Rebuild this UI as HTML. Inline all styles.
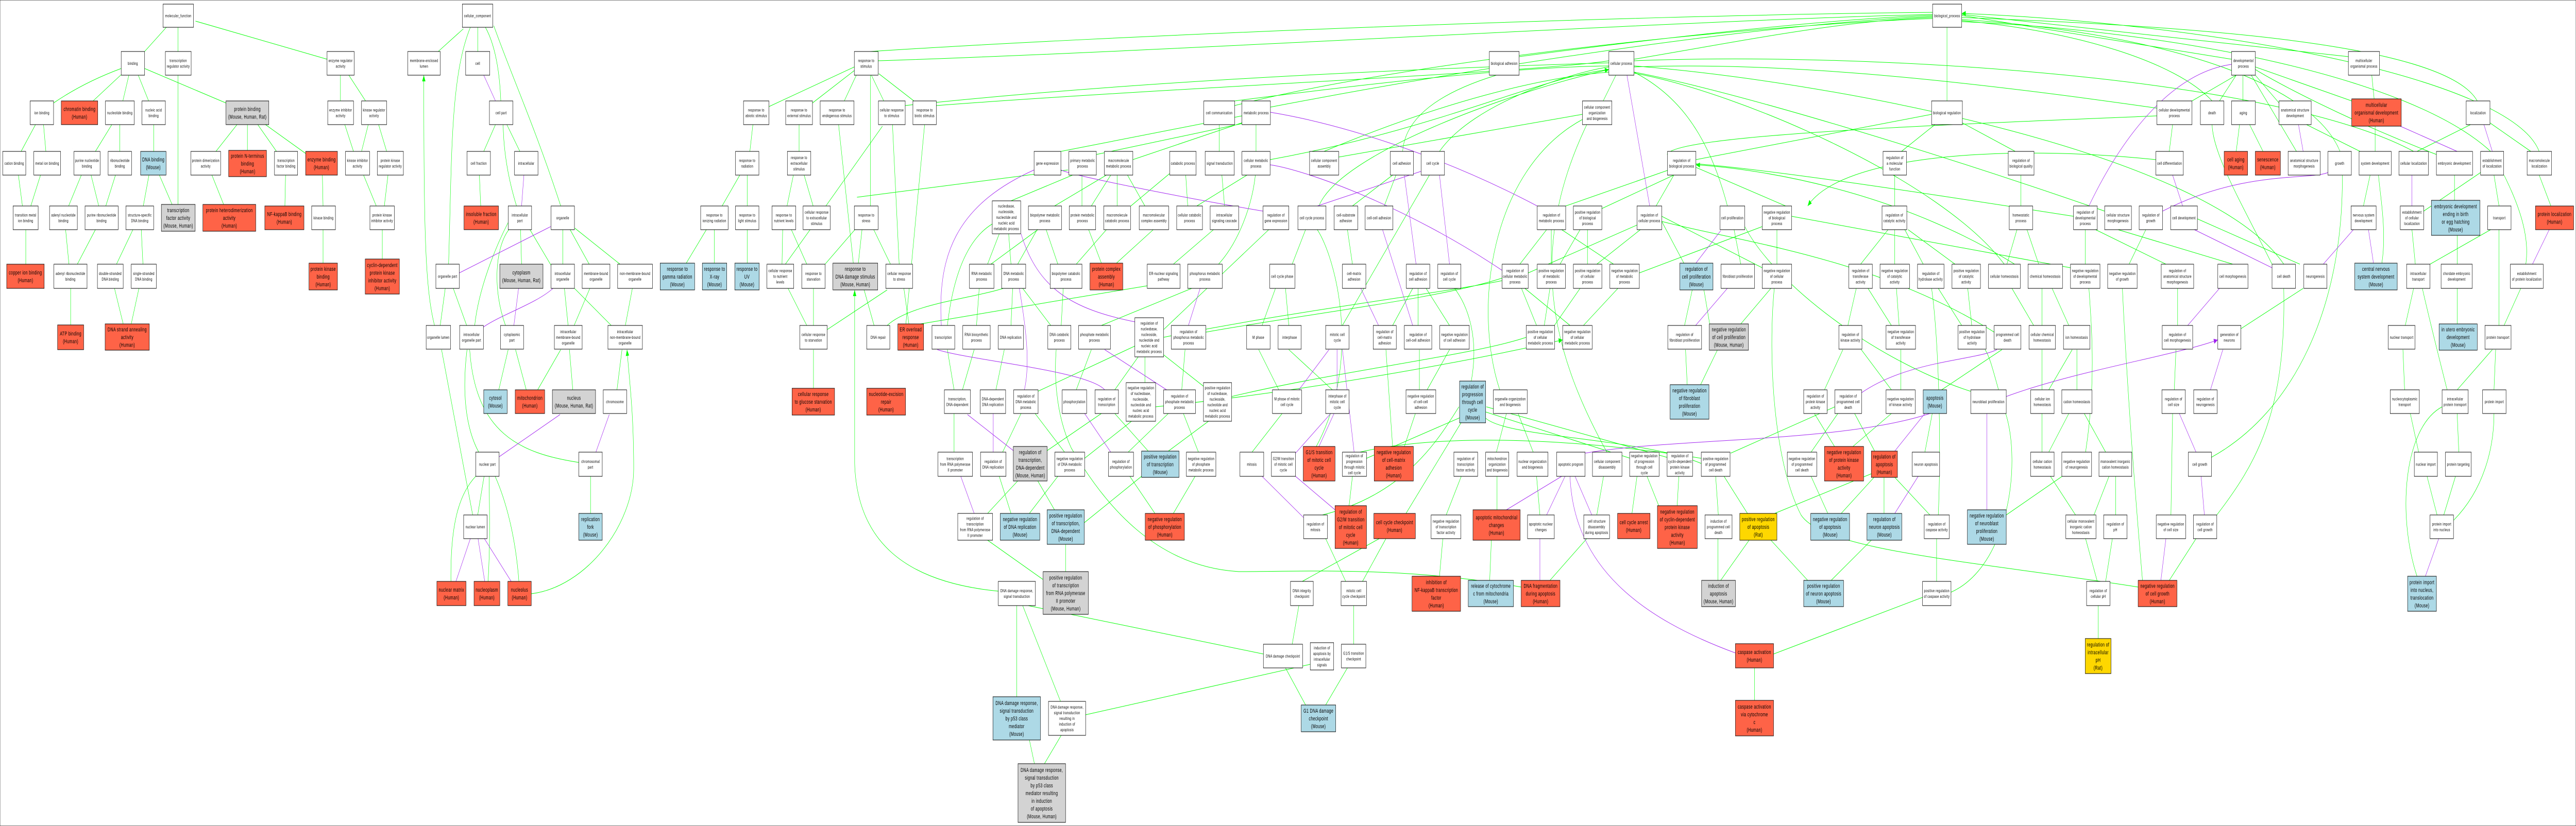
<!DOCTYPE html>
<html><head><meta charset="utf-8"><style>
html,body{margin:0;padding:0;width:100%;height:100%;overflow:hidden;background:#fff}
svg{display:block}
rect{stroke:#000;stroke-width:1}
.w{fill:#fff}.r{fill:#ff6347}.b{fill:#add8e6}.g{fill:#d3d3d3}.y{fill:#ffd700}
text{font-family:"Liberation Sans",sans-serif;font-size:8.5px;letter-spacing:0.4px;text-anchor:middle;fill:#000}
text.l{font-size:11px;letter-spacing:0.5px}
</style></head><body>
<svg width="100%" height="100%" viewBox="0 0 7695 1604" preserveAspectRatio="none">
<defs>
<marker id="a" markerWidth="12" markerHeight="10" refX="12" refY="5" orient="auto" markerUnits="userSpaceOnUse"><path d="M0,0L12,5L0,10z" fill="#00ff00"/></marker>
<marker id="q" markerWidth="12" markerHeight="10" refX="12" refY="5" orient="auto" markerUnits="userSpaceOnUse"><path d="M0,0L12,5L0,10z" fill="#a020f0"/></marker>
</defs>
<rect x="0" y="0" width="7695" height="1604" fill="#fff" stroke="none"/>
<g fill="none" stroke="#00ff00" stroke-width="1" marker-end="url(#a)">
<path d="M432,100L497,53M532,100L532,53M977,115L584,41M160,200Q250,160 362,133M278,196L362,145M367,196L385,146M444,196L413,146M675,200L432,133M1017,196L1017,146M1092,196L1042,146M63,294L106,242M137,294L130,242M285,294L334,242M358,294L358,242M459,294L459,242M645,294L708,242M739,292L739,242M826,294L770,242M913,298L793,242M1056,294L1030,242M1080,294L1100,242M1155,294L1131,242M67,400L55,340M92,400L121,340M205,400L243,340M295,400L272,340M316,400L345,340M428,400L445,340M514,397L476,340M532,397L532,146M668,397L633,340M851,400L853,340M965,400L963,340M1124,400L1086,340M1148,400L1159,340M77,513L77,446M206,513L196,446M231,513L285,446M348,513L397,446M427,513L422,446M965,511L965,446M1142,503L1142,446M211,631L211,560M368,629L342,560M392,629L415,560M1309,100L1384,56M1298,632C1270,560 1266,450 1266,146"/>
<path d="M1427,100L1427,53M1496,196Q1490,100 1450,53M1340,513C1350,300 1345,150 1405,53M1675,400C1600,250 1530,150 1475,50M1445,294L1480,242M1553,294L1514,242M1543,400Q1505,320 1503,242M1436,400L1432,340M1558,513L1555,446M1681,513L1681,446M1646,515L1583,446M1760,513L1703,446M1852,513L1717,443M1315,632L1330,560M1394,632L1354,560M1418,632C1430,560 1480,480 1518,432M1510,632C1470,560 1480,480 1520,446M1697,632L1686,560M1715,632L1762,560M1826,632L1716,560M1868,632L1889,560M1490,757L1518,679M1572,757L1540,679M1606,757L1675,679M1711,757L1701,679M1843,757L1858,679M1430,878C1390,830 1380,760 1395,679M1729,898C1550,880 1420,840 1403,679M1412,1000L1319,679M1427,1000L1446,925M1764,997L1764,925M1347,1129C1345,1020 1370,960 1421,925M1458,1129C1465,1050 1462,990 1461,925M1550,1129C1540,1040 1510,970 1479,925M1587,1153C1750,1140 1893,1020 1893,910C1893,800 1880,740 1873,679"/>
<path d="M2297,207L2552,130M2427,200L2552,137M2522,196L2558,146M2240,294L2249,242M2387,294L2387,242M2157,400L2210,340M2232,400L2232,340M2351,400L2370,340M2429,400L2402,340M2467,400L2636,245M2050,511L2110,446M2134,511L2134,446M2232,511L2232,446M2336,513L2338,446M2346,513L2420,446M2410,513L2364,446M2462,515L2555,445M2549,511L2505,242M2564,511L2575,446M2430,632L2430,560M2410,632L2354,560M2471,640L2650,563M2430,754L2430,679M2982,1148C2700,1130 2560,1050 2553,900L2553,563"/>
<path d="M2640,196L2603,146M2730,196L2625,143M2600,400L2600,146M2686,513L2666,242M2660,513L2610,446M2611,632L2580,560M2650,632C2720,590 2900,580 2997,560M2715,629L2700,560M2706,629L2762,242M2750,629C3000,600 3200,580 3427,555M2830,632C2850,520 2900,460 2964,435M2917,632L2925,560M2950,513L2985,454M2960,513L3100,446M3020,513L3013,454M3040,513L3098,446M3020,632L3025,560M3139,632L3055,560M3170,632L3176,560M3150,400L3305,340M3020,390L3204,340M3169,294L3710,225M3275,300L3710,240M3384,310L3712,238M3232,400L3232,340M3260,400L3318,340M3337,400L3337,340M3378,400L3494,337M3420,400L3368,340M3548,400L3542,340M3575,400L3725,340M3642,294L3642,242M3658,400L3650,340M3752,294L3752,242M3160,513L3125,446M3215,513L3305,446M3290,511L3252,446M3335,511L3445,446M3505,513L3625,446M3640,513C3700,470 3740,400 3750,340M3476,640L3790,446M3290,632L3560,560M3215,757L3260,679M3330,757L3400,693M3100,760L3390,672M3420,743L3420,693M3530,757L3540,679M3595,750L3470,686M2850,757L2830,679M2875,757L2910,679M2975,757L3000,679M2850,878L2850,803M2995,878L3050,803M3128,875L3290,803M3180,878L3092,803M3240,890L3380,818M3370,878L3490,803M3430,876L3330,803M3490,876L3610,818M3580,878L3535,803M2950,997L3040,934M3020,997L2985,925M3075,997L3160,925M3150,990L3100,934M3239,1015L3410,925M3450,997L3375,925M3505,997L3570,925M3183,1110L3183,1057M3115,1125L2950,1049M3037,1353L3037,1176M3168,1362L3055,1176M3243,1388L3914,1290M3774,1270L3071,1176M3860,1251L3880,1176M3090,1483L3075,1437M3120,1483L3170,1428M4544,1140C4200,1100 3900,1110 3700,1110C3450,1100 3300,980 3200,870C3150,800 3150,720 3155,679M2560,383L3190,330M3476,655C3900,600 4300,570 4487,545M3602,645C3900,610 4300,580 4487,540M3679,770C4000,720 4400,690 4559,655M3452,790C3900,760 4400,700 4668,660"/>
<path d="M3900,1369L3840,1297M3960,1369L4025,1297M4044,1251L4044,1176M3890,1129L4120,1046M4070,1129L4140,1046M4020,1129L3960,1046M3950,1000C4200,960 4300,850 4358,790M4030,982L4040,925M4200,997L4370,815M3932,867C4070,700 3990,500 3935,446M3740,878L3830,803M3820,757L3760,679M3770,632L3810,560M3850,632L3840,560M3860,513L3900,446M3980,757L3850,679M4010,632L4270,340M4040,400L4160,340M4135,400L4170,340M4040,513L4025,446M4160,632L4220,560M4236,632L4236,560M4330,632L4260,560M4240,757L4240,679M4263,757L4330,679M4160,867L4140,679M4195,867L4228,803M4395,740C4420,650 4380,590 4345,560M4082,890L4365,810M4320,1000L4365,925M4300,1119L4310,1046M4470,878L4500,803M4580,878L4535,803M4480,757C4400,600 4450,330 4727,232M4472,990L4472,925M4600,1000L4590,925M4770,1000L4790,925M4450,1127L4455,1049M4630,1127L4740,1046M4800,878C4650,700 4550,500 4740,242M4870,890L4438,800M4875,997L4890,925M4990,890L4440,790M5010,982L5015,925M4960,990L4920,925M4677,400L4985,330M4785,405L5000,340M4947,400L5000,340M4540,513L4620,446M4565,530L4890,437M4634,513L4634,446M4660,513L4720,446M4742,513L4742,446M4770,513L4900,446M4820,513L4665,446M4897,530L5264,440M4590,632L4545,560M4613,632L4630,560M4640,635L4720,560M4690,632L4555,560M4730,632L4833,560M5030,511L4964,430M5032,632L5055,563M5040,747L5035,679M5080,747L5130,680M5110,640L5090,563M5200,629L5290,560M4789,196L4827,146M4190,294Q4200,200 4470,146M4300,294C4400,200 4700,140 4806,130M3999,305L4727,222M3940,400C4000,300 4500,180 4806,135"/>
<path d="M2623,118C3500,100 5000,40 5773,28M3795,208C4500,120 5300,45 5773,32M3688,196C4000,170 4500,130 4806,128M4538,110C5000,70 5500,35 5773,30M4881,115C5200,80 5500,40 5773,34M2704,205C3500,150 4400,130 4806,122M3794,310C4300,250 4600,150 4806,135M2797,205C3500,170 4600,140 4806,118M5066,310L5770,222M5352,405L5066,325M6666,115L5860,30M7015,110L5860,28M7400,196C7300,80 6500,50 5860,34M6990,294C6900,150 6400,60 5860,38M6608,196C6500,120 6200,60 5860,40M6443,210C5800,150 5300,120 4881,130M7440,294C7200,150 6500,60 5860,42M6443,225C5900,240 5000,260 4980,300M6287,410C5800,300 5200,180 4881,140M3688,205C4200,120 5200,50 5773,36M2600,100C3300,70 4800,30 5773,24M6822,513C6600,300 5500,160 4881,128M7210,294C6800,150 5600,100 4881,118M5987,513C5800,350 5200,180 4881,142M3955,294C4300,200 4600,150 4806,140M6194,420C5800,380 5300,330 5066,318M7585,294C7500,150 6600,45 5860,26"/>
<path d="M5816,196L5816,53M5680,294L5780,242M6020,294L5860,238M5660,400L5660,340M6037,400L6037,340M5160,400C5100,250 5000,180 4881,140M5308,513L5308,446M5264,520L4964,420M5200,513L5180,446M5558,513L5640,446M5660,513L5660,446M5745,513L5690,446M5840,513L5700,446M5995,513L6025,446M6090,513L6055,446M6185,520L5352,420M6229,513L6229,446M6360,513L6410,446M5520,632L5545,560M5650,632L5580,560M5673,632L5665,560M5860,632L5790,560M5890,632L5878,560M6100,632L6100,560M6075,632L6010,560M6180,632L6130,560M5450,757L5505,679M5650,757L5560,679M5678,757L5678,679M5800,757L5980,679M5887,760C5600,700 5300,550 5212,440M6120,757L6190,679M6100,757L6100,679M6204,757L6204,679M5410,878L5490,803M5480,867L5420,803M5535,867L5650,803M5600,876L5540,803M5750,878L5772,803M6120,878L6180,803M6100,878L6100,803M6230,878C6260,750 6250,650 6240,560M6290,878L6226,803M5290,1000L5590,920M5220,997L5150,925M5500,997L5598,927M5460,997L5410,925M5628,997L5628,927M5790,1000C5800,850 5790,650 5770,560M5765,1000L5660,927M5993,1000L6160,925M6255,1000L6300,925M6200,1000L6125,925M6320,1000L6320,925M5140,1127L5225,1049M5132,1127L5132,1046M5470,1127L5590,1049M5400,1127L5290,1049M5785,1129L5785,1046M6290,1129L6310,1046M6265,1129L6230,1046M5298,1270L5743,1160M5241,1360L5241,1297M6268,1240L6268,1176M5828,1150C6000,1100 6040,900 5990,800C5960,740 5950,700 5930,679M6480,1127L6560,1046M6400,1127C6370,900 6350,700 6340,560M6387,1140C5900,1090 5450,1070 5380,1000C5300,900 5280,700 5300,560M5133,1000L5125,925M5170,880L5481,790M5082,900C4900,850 4500,850 4438,812M4010,887C4300,830 4800,860 5082,890M5957,645C5600,500 5200,470 4964,430M6035,520C5700,380 5300,330 5066,320"/>
<path d="M6548,196L6680,146M6630,196L6680,146M6700,196L6700,146M6808,200L6737,146M6860,294L6725,146M7025,196L6737,130M7092,192L7085,146M7095,294L7095,245M7050,294L6890,242M7220,294L7380,242M7278,300C7000,230 6800,160 6737,135M7560,294L7430,235M6480,294L6490,242M6680,294L6690,242M6760,294L6720,242M7060,400L7080,340M7240,410L7410,335M7332,389L7332,340M7465,400L7450,340M7620,400L7585,340M6787,513C6700,400 6610,300 6608,242M6870,513L6564,425M7115,511C7130,450 7110,380 7105,340M7215,513L7205,446M7259,513L7440,446M7340,513L7340,457M7545,513C7560,450 7510,380 7480,340M6505,632L6505,560M6690,640L6880,560M7185,632L7210,560M7340,629L7340,560M7465,632L7465,446M7480,632L7530,560M6495,757L6500,679M7183,757L7178,679M7310,757C7280,680 7250,600 7236,560M7340,757L7445,679M7450,757L7455,679M6606,888C6850,800 7000,600 6997,340M7225,878L7200,803M7345,878L7340,803M6485,1000L6490,803M6622,1000C6740,900 6830,800 6822,560M7280,1000L7250,925M7300,1000L7335,925M7330,1010C7420,950 7450,870 7450,803M7220,1119C7160,1000 7180,830 7295,790M6470,513L6260,446M6670,513L6327,446M6440,310C6000,280 5500,300 5400,400"/>
</g>
<g fill="none" stroke="#a020f0" stroke-width="1" marker-end="url(#q)">
<path d="M1480,196L1445,146M1558,400L1565,340M1372,530L1645,440M1444,635C1500,610 1600,590 1652,560M1535,632L1549,560M1491,887L1673,805M1780,878L1820,805M1362,1129L1405,1046M1448,1129L1428,1046M1527,1129L1447,1046M2812,632C2800,500 2850,400 3089,330M3390,625C3200,600 3100,560 3050,454M3550,632L3585,560M3300,757C3250,720 2900,700 2800,679M3060,757C3080,700 3060,620 3045,560M3485,757L3300,679M2967,878L2967,803M3027,875L2890,805M3318,878L3240,803M2910,997L2870,925M3894,1005L3770,925M3988,990L3870,925M3940,867L3985,803M3880,757L3970,679M3994,757L3994,679M3870,880L3975,803M3935,400L4248,332M4230,513L4195,340M4330,513L4300,340M4118,632L4065,560M4220,632L4130,446M4045,878L4010,679M4500,990L4665,925M4620,1000L4675,925M4755,1000L4705,925M4600,1127L4600,1046M5184,1268C4900,1200 4700,1100 4690,925M4928,400L4860,146M5066,511L5140,448M5065,632L5160,560M5560,763C5700,700 5900,700 5965,679M5660,876L5750,803M5660,997L5730,925M5935,990L5935,803M6240,400C6350,250 6500,140 6666,125M6880,294L6866,242M7340,294L7170,245M7445,294L7420,242M6520,400L6490,340M6460,410C6700,330 6900,350 6954,335M7205,400L7205,340M7565,513L7615,446M6787,520L6555,446M6940,513L7030,446M7090,511L7075,446M6535,632L6630,560M6603,757L6640,679M6560,878L6510,803M6585,1000L6575,925M6455,1127L6470,1046M7245,1119L7285,1046M4592,400C4300,300 4000,240 3795,218M3773,410C3500,380 3200,340 3169,330M4487,525C4200,400 3900,330 3794,320M4735,880C5000,850 5500,860 5765,803M5993,770C6200,720 6500,690 6625,660"/>
</g>

<rect class="w" x="487" y="8" width="91" height="45"/><text x="532.5" y="33.5">molecular_function</text>
<rect class="w" x="362" y="100" width="70" height="46"/><text x="397" y="126">binding</text>
<rect class="w" x="494" y="100" width="77" height="46"/><text x="532.5" y="120.5">transcription<tspan x="532.5" dy="11">regulator activity</tspan></text>
<rect class="w" x="977" y="100" width="81" height="46"/><text x="1017.5" y="120.5">enzyme regulator<tspan x="1017.5" dy="11">activity</tspan></text>
<rect class="w" x="1218" y="100" width="97" height="46"/><text x="1266.5" y="120.5">membrane-enclosed<tspan x="1266.5" dy="11">lumen</tspan></text>
<rect class="w" x="90" y="196" width="70" height="46"/><text x="125" y="222">ion binding</text>
<rect class="r" x="183" y="196" width="109" height="46"/><text class="l" x="237.5" y="215.5">chromatin binding<tspan x="237.5" dy="15">(Human)</tspan></text>
<rect class="w" x="315" y="196" width="86" height="46"/><text x="358" y="222">nucleotide binding</text>
<rect class="w" x="424" y="196" width="70" height="46"/><text x="459" y="216.5">nucleic acid<tspan x="459" dy="11">binding</tspan></text>
<rect class="g" x="675" y="196" width="128" height="46"/><text class="l" x="739" y="215.5">protein binding<tspan x="739" dy="15">(Mouse, Human, Rat)</tspan></text>
<rect class="w" x="979" y="196" width="77" height="46"/><text x="1017.5" y="216.5">enzyme inhibitor<tspan x="1017.5" dy="11">activity</tspan></text>
<rect class="w" x="1080" y="196" width="75" height="46"/><text x="1117.5" y="216.5">kinase regulator<tspan x="1117.5" dy="11">activity</tspan></text>
<rect class="w" x="8" y="294" width="69" height="46"/><text x="42.5" y="320">cation binding</text>
<rect class="w" x="101" y="294" width="80" height="46"/><text x="141" y="320">metal ion binding</text>
<rect class="w" x="221" y="294" width="78" height="46"/><text x="260" y="314.5">purine nucleotide<tspan x="260" dy="11">binding</tspan></text>
<rect class="w" x="323" y="294" width="70" height="46"/><text x="358" y="314.5">ribonucleotide<tspan x="358" dy="11">binding</tspan></text>
<rect class="b" x="420" y="294" width="76" height="46"/><text class="l" x="458" y="313.5">DNA binding<tspan x="458" dy="15">(Mouse)</tspan></text>
<rect class="w" x="570" y="294" width="89" height="46"/><text x="614.5" y="314.5">protein dimerization<tspan x="614.5" dy="11">activity</tspan></text>
<rect class="r" x="683" y="292" width="113" height="51"/><text class="l" x="739.5" y="306.5">protein N-terminus<tspan x="739.5" dy="15">binding</tspan><tspan x="739.5" dy="15">(Human)</tspan></text>
<rect class="w" x="820" y="294" width="69" height="46"/><text x="854.5" y="314.5">transcription<tspan x="854.5" dy="11">factor binding</tspan></text>
<rect class="r" x="913" y="294" width="95" height="46"/><text class="l" x="960.5" y="313.5">enzyme binding<tspan x="960.5" dy="15">(Human)</tspan></text>
<rect class="w" x="1032" y="294" width="72" height="46"/><text x="1068" y="314.5">kinase inhibitor<tspan x="1068" dy="11">activity</tspan></text>
<rect class="w" x="1127" y="294" width="78" height="46"/><text x="1166" y="314.5">protein kinase<tspan x="1166" dy="11">regulator activity</tspan></text>
<rect class="w" x="39" y="400" width="75" height="46"/><text x="76.5" y="420.5">transition metal<tspan x="76.5" dy="11">ion binding</tspan></text>
<rect class="w" x="148" y="400" width="83" height="46"/><text x="189.5" y="420.5">adenyl nucleotide<tspan x="189.5" dy="11">binding</tspan></text>
<rect class="w" x="254" y="400" width="99" height="46"/><text x="303.5" y="420.5">purine ribonucleotide<tspan x="303.5" dy="11">binding</tspan></text>
<rect class="w" x="376" y="400" width="83" height="46"/><text x="417.5" y="420.5">structure-specific<tspan x="417.5" dy="11">DNA binding</tspan></text>
<rect class="g" x="482" y="397" width="101" height="52"/><text class="l" x="532.5" y="412">transcription<tspan x="532.5" dy="15">factor activity</tspan><tspan x="532.5" dy="15">(Mouse, Human)</tspan></text>
<rect class="r" x="606" y="397" width="158" height="52"/><text class="l" x="685" y="412">protein heterodimerization<tspan x="685" dy="15">activity</tspan><tspan x="685" dy="15">(Human)</tspan></text>
<rect class="r" x="791" y="400" width="117" height="46"/><text class="l" x="849.5" y="419.5">NF-kappaB binding<tspan x="849.5" dy="15">(Human)</tspan></text>
<rect class="w" x="931" y="400" width="71" height="46"/><text x="966.5" y="426">kinase binding</text>
<rect class="w" x="1105" y="400" width="73" height="46"/><text x="1141.5" y="420.5">protein kinase<tspan x="1141.5" dy="11">inhibitor activity</tspan></text>
<rect class="r" x="20" y="513" width="112" height="47"/><text class="l" x="76" y="533">copper ion binding<tspan x="76" dy="15">(Human)</tspan></text>
<rect class="w" x="161" y="513" width="99" height="47"/><text x="210.5" y="534">adenyl ribonucleotide<tspan x="210.5" dy="11">binding</tspan></text>
<rect class="w" x="291" y="513" width="77" height="47"/><text x="329.5" y="534">double-stranded<tspan x="329.5" dy="11">DNA binding</tspan></text>
<rect class="w" x="392" y="513" width="75" height="47"/><text x="429.5" y="534">single-stranded<tspan x="429.5" dy="11">DNA binding</tspan></text>
<rect class="r" x="923" y="511" width="85" height="52"/><text class="l" x="965.5" y="526">protein kinase<tspan x="965.5" dy="15">binding</tspan><tspan x="965.5" dy="15">(Human)</tspan></text>
<rect class="r" x="1091" y="503" width="102" height="68"/><text class="l" x="1142" y="518.5">cyclin-dependent<tspan x="1142" dy="15">protein kinase</tspan><tspan x="1142" dy="15">inhibitor activity</tspan><tspan x="1142" dy="15">(Human)</tspan></text>
<rect class="r" x="172" y="631" width="78" height="48"/><text class="l" x="211" y="651.5">ATP binding<tspan x="211" dy="15">(Human)</tspan></text>
<rect class="r" x="314" y="629" width="132" height="51"/><text class="l" x="380" y="643.5">DNA strand annealing<tspan x="380" dy="15">activity</tspan><tspan x="380" dy="15">(Human)</tspan></text>
<rect class="w" x="1273" y="632" width="73" height="46"/><text x="1309.5" y="658">organelle lumen</text>

<rect class="w" x="1381" y="8" width="91" height="45"/><text x="1426.5" y="33.5">cellular_component</text>
<rect class="w" x="1391" y="100" width="72" height="46"/><text x="1427" y="126">cell</text>
<rect class="w" x="1462" y="196" width="70" height="46"/><text x="1497" y="222">cell part</text>
<rect class="w" x="1395" y="294" width="70" height="46"/><text x="1430" y="320">cell fraction</text>
<rect class="w" x="1537" y="294" width="70" height="46"/><text x="1572" y="320">intracellular</text>
<rect class="r" x="1386" y="400" width="103" height="46"/><text class="l" x="1437.5" y="419.5">insoluble fraction<tspan x="1437.5" dy="15">(Human)</tspan></text>
<rect class="w" x="1518" y="400" width="70" height="46"/><text x="1553" y="420.5">intracellular<tspan x="1553" dy="11">part</tspan></text>
<rect class="w" x="1646" y="400" width="70" height="46"/><text x="1681" y="426">organelle</text>
<rect class="w" x="1302" y="513" width="70" height="47"/><text x="1337" y="539.5">organelle part</text>
<rect class="g" x="1493" y="513" width="129" height="47"/><text class="l" x="1557.5" y="533">cytoplasm<tspan x="1557.5" dy="15">(Mouse, Human, Rat)</tspan></text>
<rect class="w" x="1646" y="513" width="70" height="47"/><text x="1681" y="534">intracellular<tspan x="1681" dy="11">organelle</tspan></text>
<rect class="w" x="1739" y="513" width="83" height="47"/><text x="1780.5" y="534">membrane-bound<tspan x="1780.5" dy="11">organelle</tspan></text>
<rect class="w" x="1845" y="513" width="104" height="47"/><text x="1897" y="534">non-membrane-bound<tspan x="1897" dy="11">organelle</tspan></text>
<rect class="w" x="1373" y="632" width="71" height="46"/><text x="1408.5" y="652.5">intracellular<tspan x="1408.5" dy="11">organelle part</tspan></text>
<rect class="w" x="1495" y="632" width="69" height="46"/><text x="1529.5" y="652.5">cytoplasmic<tspan x="1529.5" dy="11">part</tspan></text>
<rect class="w" x="1656" y="632" width="83" height="46"/><text x="1697.5" y="647">intracellular<tspan x="1697.5" dy="11">membrane-bound</tspan><tspan x="1697.5" dy="11">organelle</tspan></text>
<rect class="w" x="1816" y="632" width="103" height="46"/><text x="1867.5" y="647">intracellular<tspan x="1867.5" dy="11">non-membrane-bound</tspan><tspan x="1867.5" dy="11">organelle</tspan></text>
<rect class="b" x="1445" y="757" width="70" height="46"/><text class="l" x="1480" y="776.5">cytosol<tspan x="1480" dy="15">(Mouse)</tspan></text>
<rect class="r" x="1539" y="757" width="88" height="46"/><text class="l" x="1583" y="776.5">mitochondrion<tspan x="1583" dy="15">(Human)</tspan></text>
<rect class="g" x="1650" y="757" width="129" height="46"/><text class="l" x="1714.5" y="776.5">nucleus<tspan x="1714.5" dy="15">(Mouse, Human, Rat)</tspan></text>
<rect class="w" x="1802" y="757" width="70" height="46"/><text x="1837" y="783">chromosome</text>
<rect class="w" x="1421" y="878" width="70" height="47"/><text x="1456" y="904.5">nuclear part</text>
<rect class="w" x="1729" y="878" width="70" height="47"/><text x="1764" y="899">chromosomal<tspan x="1764" dy="11">part</tspan></text>
<rect class="w" x="1385" y="1000" width="70" height="46"/><text x="1420" y="1026">nuclear lumen</text>
<rect class="b" x="1729" y="997" width="70" height="52"/><text class="l" x="1764" y="1012">replication<tspan x="1764" dy="15">fork</tspan><tspan x="1764" dy="15">(Mouse)</tspan></text>
<rect class="r" x="1305" y="1129" width="87" height="47"/><text class="l" x="1348.5" y="1149">nuclear matrix<tspan x="1348.5" dy="15">(Human)</tspan></text>
<rect class="r" x="1416" y="1129" width="77" height="47"/><text class="l" x="1454.5" y="1149">nucleoplasm<tspan x="1454.5" dy="15">(Human)</tspan></text>
<rect class="r" x="1517" y="1129" width="70" height="47"/><text class="l" x="1552" y="1149">nucleolus<tspan x="1552" dy="15">(Human)</tspan></text>

<rect class="w" x="2552" y="100" width="71" height="46"/><text x="2587.5" y="120.5">response to<tspan x="2587.5" dy="11">stimulus</tspan></text>
<rect class="w" x="2221" y="196" width="76" height="46"/><text x="2259" y="216.5">response to<tspan x="2259" dy="11">abiotic stimulus</tspan></text>
<rect class="w" x="2347" y="196" width="80" height="46"/><text x="2387" y="216.5">response to<tspan x="2387" dy="11">external stimulus</tspan></text>
<rect class="w" x="2450" y="196" width="101" height="46"/><text x="2500.5" y="216.5">response to<tspan x="2500.5" dy="11">endogenous stimulus</tspan></text>
<rect class="w" x="2197" y="294" width="70" height="46"/><text x="2232" y="314.5">response to<tspan x="2232" dy="11">radiation</tspan></text>
<rect class="w" x="2352" y="294" width="70" height="46"/><text x="2387" y="309">response to<tspan x="2387" dy="11">extracellular</tspan><tspan x="2387" dy="11">stimulus</tspan></text>
<rect class="w" x="2093" y="400" width="82" height="46"/><text x="2134" y="420.5">response to<tspan x="2134" dy="11">ionizing radiation</tspan></text>
<rect class="w" x="2197" y="400" width="70" height="46"/><text x="2232" y="420.5">response to<tspan x="2232" dy="11">light stimulus</tspan></text>
<rect class="w" x="2306" y="400" width="71" height="46"/><text x="2341.5" y="420.5">response to<tspan x="2341.5" dy="11">nutrient levels</tspan></text>
<rect class="w" x="2399" y="400" width="81" height="46"/><text x="2439.5" y="415">cellular response<tspan x="2439.5" dy="11">to extracellular</tspan><tspan x="2439.5" dy="11">stimulus</tspan></text>
<rect class="w" x="2552" y="400" width="71" height="46"/><text x="2587.5" y="420.5">response to<tspan x="2587.5" dy="11">stress</tspan></text>
<rect class="b" x="1972" y="511" width="103" height="52"/><text class="l" x="2023.5" y="526">response to<tspan x="2023.5" dy="15">gamma radiation</tspan><tspan x="2023.5" dy="15">(Mouse)</tspan></text>
<rect class="b" x="2098" y="511" width="73" height="52"/><text class="l" x="2134.5" y="526">response to<tspan x="2134.5" dy="15">X-ray</tspan><tspan x="2134.5" dy="15">(Mouse)</tspan></text>
<rect class="b" x="2195" y="511" width="73" height="52"/><text class="l" x="2231.5" y="526">response to<tspan x="2231.5" dy="15">UV</tspan><tspan x="2231.5" dy="15">(Mouse)</tspan></text>
<rect class="w" x="2291" y="513" width="80" height="47"/><text x="2331" y="528.5">cellular response<tspan x="2331" dy="11">to nutrient</tspan><tspan x="2331" dy="11">levels</tspan></text>
<rect class="w" x="2395" y="513" width="70" height="47"/><text x="2430" y="534">response to<tspan x="2430" dy="11">starvation</tspan></text>
<rect class="g" x="2488" y="511" width="134" height="52"/><text class="l" x="2555" y="526">response to<tspan x="2555" dy="15">DNA damage stimulus</tspan><tspan x="2555" dy="15">(Mouse, Human)</tspan></text>
<rect class="w" x="2389" y="632" width="82" height="46"/><text x="2430" y="652.5">cellular response<tspan x="2430" dy="11">to starvation</tspan></text>
<rect class="r" x="2366" y="754" width="127" height="52"/><text class="l" x="2429.5" y="769">cellular response<tspan x="2429.5" dy="15">to glucose starvation</tspan><tspan x="2429.5" dy="15">(Human)</tspan></text>

<rect class="w" x="2624" y="196" width="80" height="46"/><text x="2664" y="216.5">cellular response<tspan x="2664" dy="11">to stimulus</tspan></text>
<rect class="w" x="2727" y="196" width="70" height="46"/><text x="2762" y="216.5">response to<tspan x="2762" dy="11">biotic stimulus</tspan></text>
<rect class="w" x="3596" y="196" width="92" height="46"/><text x="3642" y="222">cell communication</text>
<rect class="w" x="3710" y="196" width="85" height="46"/><text x="3752.5" y="222">metabolic process</text>
<rect class="w" x="3089" y="294" width="80" height="46"/><text x="3129" y="320">gene expression</text>
<rect class="w" x="3193" y="294" width="82" height="46"/><text x="3234" y="314.5">primary metabolic<tspan x="3234" dy="11">process</tspan></text>
<rect class="w" x="3299" y="294" width="85" height="46"/><text x="3341.5" y="314.5">macromolecule<tspan x="3341.5" dy="11">metabolic process</tspan></text>
<rect class="w" x="3494" y="294" width="79" height="46"/><text x="3533.5" y="320">catabolic process</text>
<rect class="w" x="3600" y="294" width="87" height="46"/><text x="3643.5" y="320">signal transduction</text>
<rect class="w" x="3710" y="294" width="84" height="46"/><text x="3752" y="314.5">cellular metabolic<tspan x="3752" dy="11">process</tspan></text>
<rect class="w" x="2964" y="390" width="85" height="64"/><text x="3006.5" y="403">nucleobase,<tspan x="3006.5" dy="11">nucleoside,</tspan><tspan x="3006.5" dy="11">nucleotide and</tspan><tspan x="3006.5" dy="11">nucleic acid</tspan><tspan x="3006.5" dy="11">metabolic process</tspan></text>
<rect class="w" x="3072" y="400" width="99" height="46"/><text x="3121.5" y="420.5">biopolymer metabolic<tspan x="3121.5" dy="11">process</tspan></text>
<rect class="w" x="3194" y="400" width="79" height="46"/><text x="3233.5" y="420.5">protein metabolic<tspan x="3233.5" dy="11">process</tspan></text>
<rect class="w" x="3297" y="400" width="80" height="46"/><text x="3337" y="420.5">macromolecule<tspan x="3337" dy="11">catabolic process</tspan></text>
<rect class="w" x="3403" y="400" width="88" height="46"/><text x="3447" y="420.5">macromolecular<tspan x="3447" dy="11">complex assembly</tspan></text>
<rect class="w" x="3515" y="400" width="77" height="46"/><text x="3553.5" y="420.5">cellular catabolic<tspan x="3553.5" dy="11">process</tspan></text>
<rect class="w" x="3615" y="400" width="85" height="46"/><text x="3657.5" y="420.5">intracellular<tspan x="3657.5" dy="11">signaling cascade</tspan></text>
<rect class="w" x="3773" y="400" width="77" height="46"/><text x="3811.5" y="420.5">regulation of<tspan x="3811.5" dy="11">gene expression</tspan></text>
<rect class="w" x="2646" y="513" width="80" height="47"/><text x="2686" y="534">cellular response<tspan x="2686" dy="11">to stress</tspan></text>
<rect class="w" x="2896" y="513" width="73" height="47"/><text x="2932.5" y="534">RNA metabolic<tspan x="2932.5" dy="11">process</tspan></text>
<rect class="w" x="2992" y="513" width="72" height="47"/><text x="3028" y="534">DNA metabolic<tspan x="3028" dy="11">process</tspan></text>
<rect class="w" x="3137" y="513" width="95" height="47"/><text x="3184.5" y="534">biopolymer catabolic<tspan x="3184.5" dy="11">process</tspan></text>
<rect class="r" x="3256" y="511" width="98" height="52"/><text class="l" x="3305" y="526">protein complex<tspan x="3305" dy="15">assembly</tspan><tspan x="3305" dy="15">(Human)</tspan></text>
<rect class="w" x="3427" y="513" width="98" height="47"/><text x="3476" y="534">ER-nuclear signaling<tspan x="3476" dy="11">pathway</tspan></text>
<rect class="w" x="3548" y="513" width="103" height="47"/><text x="3599.5" y="534">phosphorus metabolic<tspan x="3599.5" dy="11">process</tspan></text>
<rect class="w" x="3793" y="513" width="75" height="47"/><text x="3830.5" y="539.5">cell cycle phase</text>
<rect class="w" x="2589" y="632" width="69" height="46"/><text x="2623.5" y="658">DNA repair</text>
<rect class="r" x="2682" y="629" width="77" height="51"/><text class="l" x="2720.5" y="643.5">ER overload<tspan x="2720.5" dy="15">response</tspan><tspan x="2720.5" dy="15">(Human)</tspan></text>
<rect class="w" x="2784" y="632" width="68" height="46"/><text x="2818" y="658">transcription</text>
<rect class="w" x="2876" y="632" width="82" height="46"/><text x="2917" y="652.5">RNA biosynthetic<tspan x="2917" dy="11">process</tspan></text>
<rect class="w" x="2982" y="632" width="75" height="46"/><text x="3019.5" y="658">DNA replication</text>
<rect class="w" x="3130" y="632" width="69" height="46"/><text x="3164.5" y="652.5">DNA catabolic<tspan x="3164.5" dy="11">process</tspan></text>
<rect class="w" x="3222" y="632" width="95" height="46"/><text x="3269.5" y="652.5">phosphate metabolic<tspan x="3269.5" dy="11">process</tspan></text>
<rect class="w" x="3390" y="617" width="86" height="76"/><text x="3433" y="630.5">regulation of<tspan x="3433" dy="11">nucleobase,</tspan><tspan x="3433" dy="11">nucleoside,</tspan><tspan x="3433" dy="11">nucleotide and</tspan><tspan x="3433" dy="11">nucleic acid</tspan><tspan x="3433" dy="11">metabolic process</tspan></text>
<rect class="w" x="3499" y="632" width="103" height="46"/><text x="3550.5" y="647">regulation of<tspan x="3550.5" dy="11">phosphorus metabolic</tspan><tspan x="3550.5" dy="11">process</tspan></text>
<rect class="w" x="3724" y="632" width="70" height="46"/><text x="3759" y="658">M phase</text>
<rect class="w" x="3818" y="632" width="69" height="46"/><text x="3852.5" y="658">interphase</text>
<rect class="r" x="2589" y="754" width="116" height="52"/><text class="l" x="2647" y="769">nucleotide-excision<tspan x="2647" dy="15">repair</tspan><tspan x="2647" dy="15">(Human)</tspan></text>
<rect class="w" x="2821" y="757" width="78" height="46"/><text x="2860" y="777.5">transcription,<tspan x="2860" dy="11">DNA-dependent</tspan></text>
<rect class="w" x="2928" y="757" width="76" height="46"/><text x="2966" y="777.5">DNA-dependent<tspan x="2966" dy="11">DNA replication</tspan></text>
<rect class="w" x="3028" y="757" width="73" height="46"/><text x="3064.5" y="772">regulation of<tspan x="3064.5" dy="11">DNA metabolic</tspan><tspan x="3064.5" dy="11">process</tspan></text>
<rect class="w" x="3173" y="757" width="73" height="46"/><text x="3209.5" y="783">phosphorylation</text>
<rect class="w" x="3271" y="757" width="70" height="46"/><text x="3306" y="777.5">regulation of<tspan x="3306" dy="11">transcription</tspan></text>
<rect class="w" x="3364" y="743" width="88" height="75"/><text x="3408" y="756">negative regulation<tspan x="3408" dy="11">of nucleobase,</tspan><tspan x="3408" dy="11">nucleoside,</tspan><tspan x="3408" dy="11">nucleotide and</tspan><tspan x="3408" dy="11">nucleic acid</tspan><tspan x="3408" dy="11">metabolic process</tspan></text>
<rect class="w" x="3476" y="757" width="95" height="46"/><text x="3523.5" y="772">regulation of<tspan x="3523.5" dy="11">phosphate metabolic</tspan><tspan x="3523.5" dy="11">process</tspan></text>
<rect class="w" x="3595" y="743" width="84" height="75"/><text x="3637" y="756">positive regulation<tspan x="3637" dy="11">of nucleobase,</tspan><tspan x="3637" dy="11">nucleoside,</tspan><tspan x="3637" dy="11">nucleotide and</tspan><tspan x="3637" dy="11">nucleic acid</tspan><tspan x="3637" dy="11">metabolic process</tspan></text>
<rect class="w" x="3801" y="757" width="87" height="46"/><text x="3844.5" y="777.5">M phase of mitotic<tspan x="3844.5" dy="11">cell cycle</tspan></text>
<rect class="w" x="2802" y="878" width="103" height="47"/><text x="2853.5" y="893.5">transcription<tspan x="2853.5" dy="11">from RNA polymerase</tspan><tspan x="2853.5" dy="11">II promoter</tspan></text>
<rect class="w" x="2929" y="878" width="76" height="47"/><text x="2967" y="899">regulation of<tspan x="2967" dy="11">DNA replication</tspan></text>
<rect class="g" x="3027" y="867" width="101" height="67"/><text class="l" x="3077.5" y="882">regulation of<tspan x="3077.5" dy="15">transcription,</tspan><tspan x="3077.5" dy="15">DNA-dependent</tspan><tspan x="3077.5" dy="15">(Mouse, Human)</tspan></text>
<rect class="w" x="3151" y="878" width="89" height="47"/><text x="3195.5" y="893.5">negative regulation<tspan x="3195.5" dy="11">of DNA metabolic</tspan><tspan x="3195.5" dy="11">process</tspan></text>
<rect class="w" x="3311" y="878" width="75" height="47"/><text x="3348.5" y="899">regulation of<tspan x="3348.5" dy="11">phosphorylation</tspan></text>
<rect class="b" x="3410" y="876" width="112" height="51"/><text class="l" x="3466" y="890.5">positive regulation<tspan x="3466" dy="15">of transcription</tspan><tspan x="3466" dy="15">(Mouse)</tspan></text>
<rect class="w" x="3544" y="878" width="88" height="47"/><text x="3588" y="893.5">negative regulation<tspan x="3588" dy="11">of phosphate</tspan><tspan x="3588" dy="11">metabolic process</tspan></text>
<rect class="w" x="3704" y="878" width="71" height="47"/><text x="3739.5" y="904.5">mitosis</text>
<rect class="w" x="3798" y="878" width="72" height="47"/><text x="3834" y="893.5">G2/M transition<tspan x="3834" dy="11">of mitotic cell</tspan><tspan x="3834" dy="11">cycle</tspan></text>
<rect class="w" x="2861" y="997" width="104" height="52"/><text x="2913" y="1009.5">regulation of<tspan x="2913" dy="11">transcription</tspan><tspan x="2913" dy="11">from RNA polymerase</tspan><tspan x="2913" dy="11">II promoter</tspan></text>
<rect class="b" x="2988" y="997" width="118" height="52"/><text class="l" x="3047" y="1012">negative regulation<tspan x="3047" dy="15">of DNA replication</tspan><tspan x="3047" dy="15">(Mouse)</tspan></text>
<rect class="b" x="3128" y="990" width="111" height="67"/><text class="l" x="3183.5" y="1005">positive regulation<tspan x="3183.5" dy="15">of transcription,</tspan><tspan x="3183.5" dy="15">DNA-dependent</tspan><tspan x="3183.5" dy="15">(Mouse)</tspan></text>
<rect class="r" x="3421" y="997" width="117" height="52"/><text class="l" x="3479.5" y="1012">negative regulation<tspan x="3479.5" dy="15">of phosphorylation</tspan><tspan x="3479.5" dy="15">(Human)</tspan></text>
<rect class="g" x="3116" y="1110" width="135" height="83"/><text class="l" x="3183.5" y="1125.5">positive regulation<tspan x="3183.5" dy="15">of transcription</tspan><tspan x="3183.5" dy="15">from RNA polymerase</tspan><tspan x="3183.5" dy="15">II promoter</tspan><tspan x="3183.5" dy="15">(Mouse, Human)</tspan></text>
<rect class="w" x="2982" y="1129" width="111" height="47"/><text x="3037.5" y="1150">DNA damage response,<tspan x="3037.5" dy="11">signal transduction</tspan></text>
<rect class="w" x="3855" y="1129" width="68" height="47"/><text x="3889" y="1150">DNA integrity<tspan x="3889" dy="11">checkpoint</tspan></text>
<rect class="w" x="3774" y="1251" width="117" height="46"/><text x="3832.5" y="1277">DNA damage checkpoint</text>
<rect class="b" x="2966" y="1353" width="142" height="84"/><text class="l" x="3037" y="1369">DNA damage response,<tspan x="3037" dy="15">signal transduction</tspan><tspan x="3037" dy="15">by p53 class</tspan><tspan x="3037" dy="15">mediator</tspan><tspan x="3037" dy="15">(Mouse)</tspan></text>
<rect class="w" x="3132" y="1362" width="111" height="66"/><text x="3187.5" y="1376">DNA damage response,<tspan x="3187.5" dy="11">signal transduction</tspan><tspan x="3187.5" dy="11">resulting in</tspan><tspan x="3187.5" dy="11">induction of</tspan><tspan x="3187.5" dy="11">apoptosis</tspan></text>
<rect class="g" x="3041" y="1483" width="142" height="114"/><text class="l" x="3112" y="1499">DNA damage response,<tspan x="3112" dy="15">signal transduction</tspan><tspan x="3112" dy="15">by p53 class</tspan><tspan x="3112" dy="15">mediator resulting</tspan><tspan x="3112" dy="15">in induction</tspan><tspan x="3112" dy="15">of apoptosis</tspan><tspan x="3112" dy="15">(Mouse, Human)</tspan></text>

<rect class="w" x="4449" y="100" width="89" height="46"/><text x="4493.5" y="126">biological adhesion</text>
<rect class="w" x="4806" y="100" width="75" height="46"/><text x="4843.5" y="126">cellular process</text>
<rect class="w" x="4727" y="196" width="88" height="46"/><text x="4771" y="211">cellular component<tspan x="4771" dy="11">organization</tspan><tspan x="4771" dy="11">and biogenesis</tspan></text>
<rect class="w" x="3912" y="294" width="87" height="46"/><text x="3955.5" y="314.5">cellular component<tspan x="3955.5" dy="11">assembly</tspan></text>
<rect class="w" x="4153" y="294" width="69" height="46"/><text x="4187.5" y="320">cell adhesion</text>
<rect class="w" x="4245" y="294" width="70" height="46"/><text x="4280" y="320">cell cycle</text>
<rect class="w" x="4981" y="294" width="85" height="46"/><text x="5023.5" y="314.5">regulation of<tspan x="5023.5" dy="11">biological process</tspan></text>
<rect class="w" x="3877" y="400" width="84" height="46"/><text x="3919" y="426">cell cycle process</text>
<rect class="w" x="3985" y="400" width="71" height="46"/><text x="4020.5" y="420.5">cell-substrate<tspan x="4020.5" dy="11">adhesion</tspan></text>
<rect class="w" x="4078" y="400" width="83" height="46"/><text x="4119.5" y="426">cell-cell adhesion</text>
<rect class="w" x="4592" y="400" width="85" height="46"/><text x="4634.5" y="420.5">regulation of<tspan x="4634.5" dy="11">metabolic process</tspan></text>
<rect class="w" x="4700" y="400" width="85" height="46"/><text x="4742.5" y="415">positive regulation<tspan x="4742.5" dy="11">of biological</tspan><tspan x="4742.5" dy="11">process</tspan></text>
<rect class="w" x="4890" y="400" width="74" height="46"/><text x="4927" y="420.5">regulation of<tspan x="4927" dy="11">cellular process</tspan></text>
<rect class="w" x="5138" y="400" width="74" height="46"/><text x="5175" y="426">cell proliferation</text>
<rect class="w" x="4010" y="513" width="70" height="47"/><text x="4045" y="534">cell-matrix<tspan x="4045" dy="11">adhesion</tspan></text>
<rect class="w" x="4201" y="513" width="70" height="47"/><text x="4236" y="534">regulation of<tspan x="4236" dy="11">cell adhesion</tspan></text>
<rect class="w" x="4295" y="513" width="69" height="47"/><text x="4329.5" y="534">regulation of<tspan x="4329.5" dy="11">cell cycle</tspan></text>
<rect class="w" x="4487" y="513" width="78" height="47"/><text x="4526" y="528.5">regulation of<tspan x="4526" dy="11">cellular metabolic</tspan><tspan x="4526" dy="11">process</tspan></text>
<rect class="w" x="4592" y="513" width="84" height="47"/><text x="4634" y="528.5">positive regulation<tspan x="4634" dy="11">of metabolic</tspan><tspan x="4634" dy="11">process</tspan></text>
<rect class="w" x="4700" y="513" width="85" height="47"/><text x="4742.5" y="528.5">positive regulation<tspan x="4742.5" dy="11">of cellular</tspan><tspan x="4742.5" dy="11">process</tspan></text>
<rect class="w" x="4809" y="513" width="88" height="47"/><text x="4853" y="528.5">negative regulation<tspan x="4853" dy="11">of metabolic</tspan><tspan x="4853" dy="11">process</tspan></text>
<rect class="b" x="5018" y="511" width="99" height="52"/><text class="l" x="5067.5" y="526">regulation of<tspan x="5067.5" dy="15">cell proliferation</tspan><tspan x="5067.5" dy="15">(Mouse)</tspan></text>
<rect class="w" x="3960" y="632" width="70" height="46"/><text x="3995" y="652.5">mitotic cell<tspan x="3995" dy="11">cycle</tspan></text>
<rect class="w" x="4102" y="632" width="69" height="46"/><text x="4136.5" y="647">regulation of<tspan x="4136.5" dy="11">cell-matrix</tspan><tspan x="4136.5" dy="11">adhesion</tspan></text>
<rect class="w" x="4195" y="632" width="82" height="46"/><text x="4236" y="652.5">regulation of<tspan x="4236" dy="11">cell-cell adhesion</tspan></text>
<rect class="w" x="4301" y="632" width="88" height="46"/><text x="4345" y="652.5">negative regulation<tspan x="4345" dy="11">of cell adhesion</tspan></text>
<rect class="w" x="4559" y="632" width="85" height="46"/><text x="4601.5" y="647">positive regulation<tspan x="4601.5" dy="11">of cellular</tspan><tspan x="4601.5" dy="11">metabolic process</tspan></text>
<rect class="w" x="4668" y="632" width="88" height="46"/><text x="4712" y="647">negative regulation<tspan x="4712" dy="11">of cellular</tspan><tspan x="4712" dy="11">metabolic process</tspan></text>
<rect class="w" x="4982" y="632" width="101" height="46"/><text x="5032.5" y="652.5">regulation of<tspan x="5032.5" dy="11">fibroblast proliferation</tspan></text>
<rect class="g" x="5106" y="629" width="117" height="51"/><text class="l" x="5164.5" y="643.5">negative regulation<tspan x="5164.5" dy="15">of cell proliferation</tspan><tspan x="5164.5" dy="15">(Mouse, Human)</tspan></text>
<rect class="w" x="3960" y="757" width="70" height="46"/><text x="3995" y="772">interphase of<tspan x="3995" dy="11">mitotic cell</tspan><tspan x="3995" dy="11">cycle</tspan></text>
<rect class="w" x="4200" y="757" width="89" height="46"/><text x="4244.5" y="772">negative regulation<tspan x="4244.5" dy="11">of cell-cell</tspan><tspan x="4244.5" dy="11">adhesion</tspan></text>
<rect class="b" x="4360" y="740" width="78" height="81"/><text class="l" x="4399" y="754.5">regulation of<tspan x="4399" dy="15">progression</tspan><tspan x="4399" dy="15">through cell</tspan><tspan x="4399" dy="15">cycle</tspan><tspan x="4399" dy="15">(Mouse)</tspan></text>
<rect class="w" x="4461" y="757" width="101" height="46"/><text x="4511.5" y="777.5">organelle organization<tspan x="4511.5" dy="11">and biogenesis</tspan></text>
<rect class="b" x="4989" y="747" width="116" height="67"/><text class="l" x="5047" y="762">negative regulation<tspan x="5047" dy="15">of fibroblast</tspan><tspan x="5047" dy="15">proliferation</tspan><tspan x="5047" dy="15">(Mouse)</tspan></text>
<rect class="r" x="3893" y="867" width="95" height="67"/><text class="l" x="3940.5" y="882">G1/S transition<tspan x="3940.5" dy="15">of mitotic cell</tspan><tspan x="3940.5" dy="15">cycle</tspan><tspan x="3940.5" dy="15">(Human)</tspan></text>
<rect class="w" x="4010" y="878" width="72" height="47"/><text x="4046" y="888">regulation of<tspan x="4046" dy="11">progression</tspan><tspan x="4046" dy="11">through mitotic</tspan><tspan x="4046" dy="11">cell cycle</tspan></text>
<rect class="r" x="4105" y="867" width="117" height="67"/><text class="l" x="4163.5" y="882">negative regulation<tspan x="4163.5" dy="15">of cell-matrix</tspan><tspan x="4163.5" dy="15">adhesion</tspan><tspan x="4163.5" dy="15">(Human)</tspan></text>
<rect class="w" x="4343" y="878" width="71" height="47"/><text x="4378.5" y="893.5">regulation of<tspan x="4378.5" dy="11">transcription</tspan><tspan x="4378.5" dy="11">factor activity</tspan></text>
<rect class="w" x="4438" y="878" width="69" height="47"/><text x="4472.5" y="893.5">mitochondrion<tspan x="4472.5" dy="11">organization</tspan><tspan x="4472.5" dy="11">and biogenesis</tspan></text>
<rect class="w" x="4532" y="878" width="92" height="47"/><text x="4578" y="899">nuclear organization<tspan x="4578" dy="11">and biogenesis</tspan></text>
<rect class="w" x="4650" y="878" width="85" height="47"/><text x="4692.5" y="904.5">apoptotic program</text>
<rect class="w" x="4757" y="878" width="88" height="47"/><text x="4801" y="899">cellular component<tspan x="4801" dy="11">disassembly</tspan></text>
<rect class="w" x="4868" y="878" width="88" height="47"/><text x="4912" y="888">negative regulation<tspan x="4912" dy="11">of progression</tspan><tspan x="4912" dy="11">through cell</tspan><tspan x="4912" dy="11">cycle</tspan></text>
<rect class="w" x="4980" y="878" width="76" height="47"/><text x="5018" y="888">regulation of<tspan x="5018" dy="11">cyclin-dependent</tspan><tspan x="5018" dy="11">protein kinase</tspan><tspan x="5018" dy="11">activity</tspan></text>
<rect class="w" x="5082" y="878" width="86" height="47"/><text x="5125" y="893.5">positive regulation<tspan x="5125" dy="11">of programmed</tspan><tspan x="5125" dy="11">cell death</tspan></text>
<rect class="w" x="3894" y="1000" width="71" height="46"/><text x="3929.5" y="1020.5">regulation of<tspan x="3929.5" dy="11">mitosis</tspan></text>
<rect class="r" x="3988" y="982" width="94" height="83"/><text class="l" x="4035" y="997.5">regulation of<tspan x="4035" dy="15">G2/M transition</tspan><tspan x="4035" dy="15">of mitotic cell</tspan><tspan x="4035" dy="15">cycle</tspan><tspan x="4035" dy="15">(Human)</tspan></text>
<rect class="r" x="4104" y="997" width="124" height="49"/><text class="l" x="4166" y="1018">cell cycle checkpoint<tspan x="4166" dy="15">(Human)</tspan></text>
<rect class="w" x="4275" y="1000" width="89" height="46"/><text x="4319.5" y="1015">negative regulation<tspan x="4319.5" dy="11">of transcription</tspan><tspan x="4319.5" dy="11">factor activity</tspan></text>
<rect class="r" x="4400" y="990" width="141" height="59"/><text class="l" x="4470.5" y="1008.5">apoptotic mitochondrial<tspan x="4470.5" dy="15">changes</tspan><tspan x="4470.5" dy="15">(Human)</tspan></text>
<rect class="w" x="4563" y="1000" width="80" height="46"/><text x="4603" y="1020.5">apoptotic nuclear<tspan x="4603" dy="11">changes</tspan></text>
<rect class="w" x="4731" y="1000" width="77" height="46"/><text x="4769.5" y="1015">cell structure<tspan x="4769.5" dy="11">disassembly</tspan><tspan x="4769.5" dy="11">during apoptosis</tspan></text>
<rect class="r" x="4832" y="997" width="97" height="49"/><text class="l" x="4880.5" y="1018">cell cycle arrest<tspan x="4880.5" dy="15">(Human)</tspan></text>
<rect class="r" x="4951" y="982" width="119" height="83"/><text class="l" x="5010.5" y="997.5">negative regulation<tspan x="5010.5" dy="15">of cyclin-dependent</tspan><tspan x="5010.5" dy="15">protein kinase</tspan><tspan x="5010.5" dy="15">activity</tspan><tspan x="5010.5" dy="15">(Human)</tspan></text>
<rect class="w" x="5093" y="1000" width="81" height="46"/><text x="5133.5" y="1015">induction of<tspan x="5133.5" dy="11">programmed cell</tspan><tspan x="5133.5" dy="11">death</tspan></text>
<rect class="w" x="4006" y="1129" width="76" height="47"/><text x="4044" y="1150">mitotic cell<tspan x="4044" dy="11">cycle checkpoint</tspan></text>
<rect class="r" x="4218" y="1119" width="145" height="68"/><text class="l" x="4290.5" y="1134.5">inhibition of<tspan x="4290.5" dy="15">NF-kappaB transcription</tspan><tspan x="4290.5" dy="15">factor</tspan><tspan x="4290.5" dy="15">(Human)</tspan></text>
<rect class="b" x="4386" y="1127" width="135" height="51"/><text class="l" x="4453.5" y="1141.5">release of cytochrome<tspan x="4453.5" dy="15">c from mitochondria</tspan><tspan x="4453.5" dy="15">(Mouse)</tspan></text>
<rect class="r" x="4544" y="1127" width="116" height="51"/><text class="l" x="4602" y="1141.5">DNA fragmentation<tspan x="4602" dy="15">during apoptosis</tspan><tspan x="4602" dy="15">(Human)</tspan></text>
<rect class="g" x="5083" y="1127" width="101" height="51"/><text class="l" x="5133.5" y="1141.5">induction of<tspan x="5133.5" dy="15">apoptosis</tspan><tspan x="5133.5" dy="15">(Mouse, Human)</tspan></text>
<rect class="w" x="3914" y="1248" width="70" height="53"/><text x="3949" y="1261">induction of<tspan x="3949" dy="11">apoptosis by</tspan><tspan x="3949" dy="11">intracellular</tspan><tspan x="3949" dy="11">signals</tspan></text>
<rect class="w" x="4007" y="1251" width="73" height="46"/><text x="4043.5" y="1271.5">G1/S transition<tspan x="4043.5" dy="11">checkpoint</tspan></text>
<rect class="b" x="3887" y="1369" width="103" height="52"/><text class="l" x="3938.5" y="1384">G1 DNA damage<tspan x="3938.5" dy="15">checkpoint</tspan><tspan x="3938.5" dy="15">(Mouse)</tspan></text>

<rect class="w" x="5773" y="8" width="87" height="45"/><text x="5816.5" y="33.5">biological_process</text>
<rect class="w" x="5770" y="196" width="92" height="46"/><text x="5816" y="222">biological regulation</text>
<rect class="w" x="5625" y="294" width="70" height="46"/><text x="5660" y="309">regulation of<tspan x="5660" dy="11">a molecular</tspan><tspan x="5660" dy="11">function</tspan></text>
<rect class="w" x="5999" y="294" width="77" height="46"/><text x="6037.5" y="314.5">regulation of<tspan x="6037.5" dy="11">biological quality</tspan></text>
<rect class="w" x="5264" y="400" width="88" height="46"/><text x="5308" y="415">negative regulation<tspan x="5308" dy="11">of biological</tspan><tspan x="5308" dy="11">process</tspan></text>
<rect class="w" x="5622" y="400" width="74" height="46"/><text x="5659" y="420.5">regulation of<tspan x="5659" dy="11">catalytic activity</tspan></text>
<rect class="w" x="6002" y="400" width="70" height="46"/><text x="6037" y="420.5">homeostatic<tspan x="6037" dy="11">process</tspan></text>
<rect class="w" x="6194" y="400" width="71" height="46"/><text x="6229.5" y="415">regulation of<tspan x="6229.5" dy="11">developmental</tspan><tspan x="6229.5" dy="11">process</tspan></text>
<rect class="w" x="6287" y="400" width="80" height="46"/><text x="6327" y="420.5">cellular structure<tspan x="6327" dy="11">morphogenesis</tspan></text>
<rect class="w" x="6390" y="400" width="70" height="46"/><text x="6425" y="420.5">regulation of<tspan x="6425" dy="11">growth</tspan></text>
<rect class="w" x="5141" y="513" width="100" height="47"/><text x="5191" y="539.5">fibroblast proliferation</text>
<rect class="w" x="5264" y="513" width="88" height="47"/><text x="5308" y="528.5">negative regulation<tspan x="5308" dy="11">of cellular</tspan><tspan x="5308" dy="11">process</tspan></text>
<rect class="w" x="5523" y="513" width="70" height="47"/><text x="5558" y="528.5">regulation of<tspan x="5558" dy="11">transferase</tspan><tspan x="5558" dy="11">activity</tspan></text>
<rect class="w" x="5616" y="513" width="88" height="47"/><text x="5660" y="528.5">negative regulation<tspan x="5660" dy="11">of catalytic</tspan><tspan x="5660" dy="11">activity</tspan></text>
<rect class="w" x="5728" y="513" width="79" height="47"/><text x="5767.5" y="534">regulation of<tspan x="5767.5" dy="11">hydrolase activity</tspan></text>
<rect class="w" x="5831" y="513" width="85" height="47"/><text x="5873.5" y="528.5">positive regulation<tspan x="5873.5" dy="11">of catalytic</tspan><tspan x="5873.5" dy="11">activity</tspan></text>
<rect class="w" x="5940" y="513" width="95" height="47"/><text x="5987.5" y="539.5">cellular homeostasis</text>
<rect class="w" x="6058" y="513" width="103" height="47"/><text x="6109.5" y="539.5">chemical homeostasis</text>
<rect class="w" x="6185" y="513" width="88" height="47"/><text x="6229" y="528.5">negative regulation<tspan x="6229" dy="11">of developmental</tspan><tspan x="6229" dy="11">process</tspan></text>
<rect class="w" x="6296" y="513" width="88" height="47"/><text x="6340" y="534">negative regulation<tspan x="6340" dy="11">of growth</tspan></text>
<rect class="w" x="5493" y="632" width="69" height="46"/><text x="5527.5" y="652.5">regulation of<tspan x="5527.5" dy="11">kinase activity</tspan></text>
<rect class="w" x="5634" y="632" width="88" height="46"/><text x="5678" y="647">negative regulation<tspan x="5678" dy="11">of transferase</tspan><tspan x="5678" dy="11">activity</tspan></text>
<rect class="w" x="5849" y="632" width="84" height="46"/><text x="5891" y="647">positive regulation<tspan x="5891" dy="11">of hydrolase</tspan><tspan x="5891" dy="11">activity</tspan></text>
<rect class="w" x="5957" y="632" width="80" height="46"/><text x="5997" y="652.5">programmed cell<tspan x="5997" dy="11">death</tspan></text>
<rect class="w" x="6061" y="632" width="79" height="46"/><text x="6100.5" y="652.5">cellular chemical<tspan x="6100.5" dy="11">homeostasis</tspan></text>
<rect class="w" x="6164" y="632" width="79" height="46"/><text x="6203.5" y="658">ion homeostasis</text>
<rect class="w" x="5388" y="757" width="70" height="46"/><text x="5423" y="772">regulation of<tspan x="5423" dy="11">protein kinase</tspan><tspan x="5423" dy="11">activity</tspan></text>
<rect class="w" x="5481" y="757" width="80" height="46"/><text x="5521" y="772">regulation of<tspan x="5521" dy="11">programmed cell</tspan><tspan x="5521" dy="11">death</tspan></text>
<rect class="w" x="5634" y="757" width="87" height="46"/><text x="5677.5" y="777.5">negative regulation<tspan x="5677.5" dy="11">of kinase activity</tspan></text>
<rect class="b" x="5745" y="757" width="70" height="46"/><text class="l" x="5780" y="776.5">apoptosis<tspan x="5780" dy="15">(Mouse)</tspan></text>
<rect class="w" x="5887" y="757" width="106" height="46"/><text x="5940" y="783">neuroblast proliferation</text>
<rect class="w" x="6066" y="757" width="70" height="46"/><text x="6101" y="777.5">cellular ion<tspan x="6101" dy="11">homeostasis</tspan></text>
<rect class="w" x="6159" y="757" width="90" height="46"/><text x="6204" y="783">cation homeostasis</text>
<rect class="w" x="5339" y="878" width="88" height="47"/><text x="5383" y="893.5">negative regulation<tspan x="5383" dy="11">of programmed</tspan><tspan x="5383" dy="11">cell death</tspan></text>
<rect class="r" x="5450" y="867" width="117" height="67"/><text class="l" x="5508.5" y="882">negative regulation<tspan x="5508.5" dy="15">of protein kinase</tspan><tspan x="5508.5" dy="15">activity</tspan><tspan x="5508.5" dy="15">(Human)</tspan></text>
<rect class="r" x="5590" y="876" width="78" height="51"/><text class="l" x="5629" y="890.5">regulation of<tspan x="5629" dy="15">apoptosis</tspan><tspan x="5629" dy="15">(Human)</tspan></text>
<rect class="w" x="5712" y="878" width="82" height="47"/><text x="5753" y="904.5">neuron apoptosis</text>
<rect class="w" x="6066" y="878" width="70" height="47"/><text x="6101" y="899">cellular cation<tspan x="6101" dy="11">homeostasis</tspan></text>
<rect class="w" x="6159" y="878" width="89" height="47"/><text x="6203.5" y="899">negative regulation<tspan x="6203.5" dy="11">of neurogenesis</tspan></text>
<rect class="w" x="6270" y="878" width="98" height="47"/><text x="6319" y="899">monovalent inorganic<tspan x="6319" dy="11">cation homeostasis</tspan></text>
<rect class="y" x="5197" y="997" width="111" height="52"/><text class="l" x="5252.5" y="1012">positive regulation<tspan x="5252.5" dy="15">of apoptosis</tspan><tspan x="5252.5" dy="15">(Rat)</tspan></text>
<rect class="b" x="5409" y="997" width="116" height="52"/><text class="l" x="5467" y="1012">negative regulation<tspan x="5467" dy="15">of apoptosis</tspan><tspan x="5467" dy="15">(Mouse)</tspan></text>
<rect class="b" x="5577" y="997" width="104" height="52"/><text class="l" x="5629" y="1012">regulation of<tspan x="5629" dy="15">neuron apoptosis</tspan><tspan x="5629" dy="15">(Mouse)</tspan></text>
<rect class="w" x="5748" y="1000" width="75" height="46"/><text x="5785.5" y="1020.5">regulation of<tspan x="5785.5" dy="11">caspase activity</tspan></text>
<rect class="b" x="5877" y="990" width="116" height="67"/><text class="l" x="5935" y="1005">negative regulation<tspan x="5935" dy="15">of neuroblast</tspan><tspan x="5935" dy="15">proliferation</tspan><tspan x="5935" dy="15">(Mouse)</tspan></text>
<rect class="w" x="6171" y="1000" width="90" height="46"/><text x="6216" y="1015">cellular monovalent<tspan x="6216" dy="11">inorganic cation</tspan><tspan x="6216" dy="11">homeostasis</tspan></text>
<rect class="w" x="6284" y="1000" width="70" height="46"/><text x="6319" y="1020.5">regulation of<tspan x="6319" dy="11">pH</tspan></text>
<rect class="b" x="5388" y="1127" width="119" height="51"/><text class="l" x="5447.5" y="1141.5">positive regulation<tspan x="5447.5" dy="15">of neuron apoptosis</tspan><tspan x="5447.5" dy="15">(Mouse)</tspan></text>
<rect class="w" x="5743" y="1129" width="85" height="47"/><text x="5785.5" y="1150">positive regulation<tspan x="5785.5" dy="11">of caspase activity</tspan></text>
<rect class="w" x="6233" y="1129" width="70" height="47"/><text x="6268" y="1150">regulation of<tspan x="6268" dy="11">cellular pH</tspan></text>
<rect class="r" x="6387" y="1127" width="116" height="51"/><text class="l" x="6445" y="1141.5">negative regulation<tspan x="6445" dy="15">of cell growth</tspan><tspan x="6445" dy="15">(Human)</tspan></text>
<rect class="r" x="5184" y="1250" width="114" height="47"/><text class="l" x="5241" y="1270">caspase activation<tspan x="5241" dy="15">(Human)</tspan></text>
<rect class="r" x="5184" y="1360" width="114" height="69"/><text class="l" x="5241" y="1376">caspase activation<tspan x="5241" dy="15">via cytochrome</tspan><tspan x="5241" dy="15">c</tspan><tspan x="5241" dy="15">(Human)</tspan></text>
<rect class="y" x="6229" y="1240" width="77" height="68"/><text class="l" x="6267.5" y="1255.5">regulation of<tspan x="6267.5" dy="15">intracellular</tspan><tspan x="6267.5" dy="15">pH</tspan><tspan x="6267.5" dy="15">(Rat)</tspan></text>

<rect class="w" x="6666" y="100" width="71" height="46"/><text x="6701.5" y="120.5">developmental<tspan x="6701.5" dy="11">process</tspan></text>
<rect class="w" x="7015" y="100" width="93" height="46"/><text x="7061.5" y="120.5">multicellular<tspan x="7061.5" dy="11">organismal process</tspan></text>
<rect class="w" x="6443" y="196" width="105" height="46"/><text x="6495.5" y="216.5">cellular developmental<tspan x="6495.5" dy="11">process</tspan></text>
<rect class="w" x="6573" y="196" width="70" height="46"/><text x="6608" y="222">death</text>
<rect class="w" x="6666" y="196" width="71" height="46"/><text x="6701.5" y="222">aging</text>
<rect class="w" x="6808" y="196" width="96" height="46"/><text x="6856" y="216.5">anatomical structure<tspan x="6856" dy="11">development</tspan></text>
<rect class="r" x="7025" y="192" width="148" height="53"/><text class="l" x="7099" y="207.5">multicellular<tspan x="7099" dy="15">organismal development</tspan><tspan x="7099" dy="15">(Human)</tspan></text>
<rect class="w" x="7367" y="196" width="71" height="46"/><text x="7402.5" y="222">localization</text>
<rect class="w" x="6440" y="294" width="82" height="46"/><text x="6481" y="320">cell differentiation</text>
<rect class="r" x="6644" y="294" width="70" height="46"/><text class="l" x="6679" y="313.5">cell aging<tspan x="6679" dy="15">(Human)</tspan></text>
<rect class="r" x="6737" y="294" width="75" height="46"/><text class="l" x="6774.5" y="313.5">senescence<tspan x="6774.5" dy="15">(Human)</tspan></text>
<rect class="w" x="6835" y="294" width="96" height="46"/><text x="6883" y="314.5">anatomical structure<tspan x="6883" dy="11">morphogenesis</tspan></text>
<rect class="w" x="6954" y="294" width="70" height="46"/><text x="6989" y="320">growth</text>
<rect class="w" x="7047" y="294" width="96" height="46"/><text x="7095" y="320">system development</text>
<rect class="w" x="7166" y="294" width="88" height="46"/><text x="7210" y="320">cellular localization</text>
<rect class="w" x="7278" y="294" width="108" height="46"/><text x="7332" y="320">embryonic development</text>
<rect class="w" x="7410" y="294" width="69" height="46"/><text x="7444.5" y="314.5">establishment<tspan x="7444.5" dy="11">of localization</tspan></text>
<rect class="w" x="7549" y="294" width="73" height="46"/><text x="7585.5" y="314.5">macromolecule<tspan x="7585.5" dy="11">localization</tspan></text>
<rect class="w" x="6484" y="400" width="80" height="46"/><text x="6524" y="426">cell development</text>
<rect class="w" x="7023" y="400" width="75" height="46"/><text x="7060.5" y="420.5">nervous system<tspan x="7060.5" dy="11">development</tspan></text>
<rect class="w" x="7170" y="400" width="70" height="46"/><text x="7205" y="415">establishment<tspan x="7205" dy="11">of cellular</tspan><tspan x="7205" dy="11">localization</tspan></text>
<rect class="b" x="7263" y="389" width="145" height="68"/><text class="l" x="7335.5" y="404.5">embryonic development<tspan x="7335.5" dy="15">ending in birth</tspan><tspan x="7335.5" dy="15">or egg hatching</tspan><tspan x="7335.5" dy="15">(Mouse)</tspan></text>
<rect class="w" x="7431" y="400" width="70" height="46"/><text x="7466" y="426">transport</text>
<rect class="r" x="7574" y="400" width="114" height="46"/><text class="l" x="7631" y="419.5">protein localization<tspan x="7631" dy="15">(Human)</tspan></text>
<rect class="w" x="6456" y="513" width="97" height="47"/><text x="6504.5" y="528.5">regulation of<tspan x="6504.5" dy="11">anatomical structure</tspan><tspan x="6504.5" dy="11">morphogenesis</tspan></text>
<rect class="w" x="6625" y="513" width="90" height="47"/><text x="6670" y="539.5">cell morphogenesis</text>
<rect class="w" x="6787" y="513" width="70" height="47"/><text x="6822" y="539.5">cell death</text>
<rect class="w" x="6882" y="513" width="69" height="47"/><text x="6916.5" y="539.5">neurogenesis</text>
<rect class="b" x="7034" y="511" width="127" height="52"/><text class="l" x="7097.5" y="526">central nervous<tspan x="7097.5" dy="15">system development</tspan><tspan x="7097.5" dy="15">(Mouse)</tspan></text>
<rect class="w" x="7189" y="513" width="70" height="47"/><text x="7224" y="534">intracellular<tspan x="7224" dy="11">transport</tspan></text>
<rect class="w" x="7292" y="513" width="93" height="47"/><text x="7338.5" y="534">chordate embryonic<tspan x="7338.5" dy="11">development</tspan></text>
<rect class="w" x="7499" y="513" width="98" height="47"/><text x="7548" y="534">establishment<tspan x="7548" dy="11">of protein localization</tspan></text>
<rect class="w" x="6459" y="632" width="91" height="46"/><text x="6504.5" y="652.5">regulation of<tspan x="6504.5" dy="11">cell morphogenesis</tspan></text>
<rect class="w" x="6625" y="632" width="69" height="46"/><text x="6659.5" y="652.5">generation of<tspan x="6659.5" dy="11">neurons</tspan></text>
<rect class="w" x="7134" y="632" width="80" height="46"/><text x="7174" y="658">nuclear transport</text>
<rect class="b" x="7286" y="629" width="114" height="51"/><text class="l" x="7343" y="643.5">in utero embryonic<tspan x="7343" dy="15">development</tspan><tspan x="7343" dy="15">(Mouse)</tspan></text>
<rect class="w" x="7423" y="632" width="78" height="46"/><text x="7462" y="658">protein transport</text>
<rect class="w" x="6458" y="757" width="70" height="46"/><text x="6493" y="777.5">regulation of<tspan x="6493" dy="11">cell size</tspan></text>
<rect class="w" x="6553" y="757" width="70" height="46"/><text x="6588" y="777.5">regulation of<tspan x="6588" dy="11">neurogenesis</tspan></text>
<rect class="w" x="7140" y="757" width="87" height="46"/><text x="7183.5" y="777.5">nucleocytoplasmic<tspan x="7183.5" dy="11">transport</tspan></text>
<rect class="w" x="7295" y="757" width="78" height="46"/><text x="7334" y="777.5">intracellular<tspan x="7334" dy="11">protein transport</tspan></text>
<rect class="w" x="7416" y="757" width="70" height="46"/><text x="7451" y="783">protein import</text>
<rect class="w" x="6537" y="878" width="69" height="47"/><text x="6571.5" y="904.5">cell growth</text>
<rect class="w" x="7212" y="878" width="69" height="47"/><text x="7246.5" y="904.5">nuclear import</text>
<rect class="w" x="7305" y="878" width="77" height="47"/><text x="7343.5" y="904.5">protein targeting</text>
<rect class="w" x="6441" y="1000" width="88" height="46"/><text x="6485" y="1020.5">negative regulation<tspan x="6485" dy="11">of cell size</tspan></text>
<rect class="w" x="6552" y="1000" width="70" height="46"/><text x="6587" y="1020.5">regulation of<tspan x="6587" dy="11">cell growth</tspan></text>
<rect class="w" x="7259" y="1000" width="70" height="46"/><text x="7294" y="1020.5">protein import<tspan x="7294" dy="11">into nucleus</tspan></text>
<rect class="b" x="7192" y="1119" width="86" height="68"/><text class="l" x="7235" y="1134.5">protein import<tspan x="7235" dy="15">into nucleus,</tspan><tspan x="7235" dy="15">translocation</tspan><tspan x="7235" dy="15">(Mouse)</tspan></text>
</svg>
</body></html>
